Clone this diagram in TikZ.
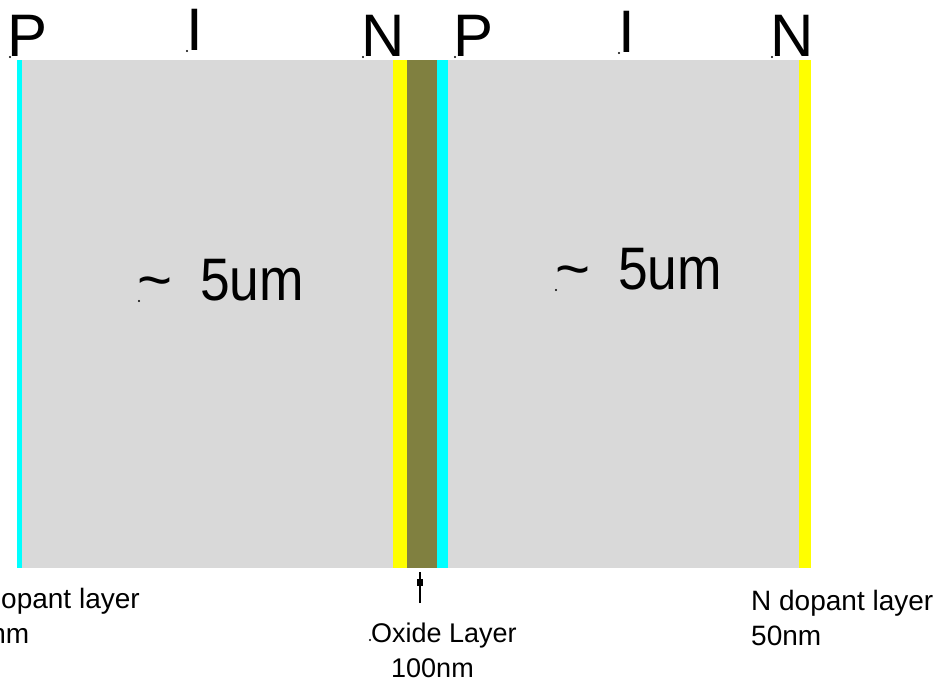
\documentclass[tikz,border=0pt]{standalone}
\usepackage{fontspec}
\setmainfont{Liberation Sans}
\usetikzlibrary{arrows.meta}
\definecolor{slab}{HTML}{D9D9D9}
\definecolor{pdop}{HTML}{00FFFF}
\definecolor{ndop}{HTML}{FFFF00}
\definecolor{oxide}{HTML}{808040}
\begin{document}
\begin{tikzpicture}[x=1pt,y=-1pt,
  layer/.style={inner sep=0pt, outer sep=0pt, anchor=north west, minimum height=508pt},
  big/.style={font=\fontsize{60}{60}\selectfont, inner sep=0pt, anchor=base},
  small/.style={font=\fontsize{28}{35}\selectfont, inner sep=0pt, align=left, anchor=base west},
  speck/.style={fill=black, circle, inner sep=0pt, minimum size=2.2pt}]
\useasboundingbox (0,0) rectangle (937,680);
\clip (0,0) rectangle (937,680);
\fill[white] (0,0) rectangle (937,680);
% layers
\node[layer, fill=pdop, minimum width=4.7pt] (p1) at (17.3,60) {};
\node[layer, fill=slab, minimum width=371pt] (i1) at (22,60) {};
\node[layer, fill=ndop, minimum width=13.7pt] (n1) at (393,60) {};
\node[layer, fill=oxide, minimum width=30.6pt] (ox) at (406.7,60) {};
\node[layer, fill=pdop, minimum width=11pt] (p2) at (437.3,60) {};
\node[layer, fill=slab, minimum width=351pt] (i2) at (448.3,60) {};
\node[layer, fill=ndop, minimum width=11.4pt] (n2) at (799.3,60) {};
% region letters
\node[big] (lP1) at (27.5,56) {P};
\node[big] (lI1) at (195,50) {I};
\node[big] (lN1) at (383.5,56) {N};
\node[big] (lP2) at (474,56) {P};
\node[big] (lI2) at (626.5,52) {I};
\node[big] (lN2) at (792,56) {N};
\node[speck] (d1) at (10,57) {};
\node[speck] (d2) at (187,51) {};
\node[speck] (d3) at (363,57) {};
\node[speck] (d4) at (455,57) {};
\node[speck] (d5) at (619,53) {};
\node[speck] (d6) at (772,57) {};
% thickness labels
\node[big, anchor=base west] (w1) at (137,300) {\textasciitilde\hspace{28pt}\scalebox{0.89}[1]{5um}};
\node[big, anchor=base west] (w2) at (555,289) {\textasciitilde\hspace{28pt}\scalebox{0.89}[1]{5um}};
\node[speck] (d7) at (139,301) {};
\node[speck] (d8) at (556,290) {};
% bottom labels (base anchor = last line)
\node[small] (pl) at (-41,643) {P dopant layer\\50nm};
\node[small] (nl) at (751,645) {N dopant layer\\50nm};
\node[small, font=\fontsize{27}{35}\selectfont] (ol) at (371,677) {Oxide Layer\\\hspace*{20pt}100nm};
\node[speck] (d9) at (370,640) {};
% oxide pointer
\coordinate (abot) at (420,603);
\coordinate (amid) at (420,579);
\coordinate (atop) at (420,572);
\draw[line width=2pt, -{Rectangle[length=7pt,width=6.5pt]}] (abot) -- (amid);
\draw[line width=2pt] (amid) -- (atop);
\end{tikzpicture}
\end{document}
